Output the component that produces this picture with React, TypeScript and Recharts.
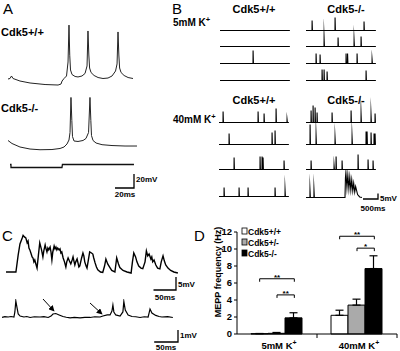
import React from "react";
import { LineChart, Line, XAxis, YAxis, BarChart, Bar, ErrorBar } from "recharts";

type Pt = [number, number];

const FONT = '"Liberation Sans", Arial, Helvetica, sans-serif';

// ---- Panel A: evoked firing (ms, mV relative to trace start)
const aWildType: Pt[] = [
  [0, 0], [2.1, 0.7], [3.7, 4.3], [5.3, 0.7], [12.6, -2.9], [23.2, -5.7], [39, -7.9], [52.7, -8.6],
  [55.8, -7.2], [56.9, -2.9], [59, 0.7], [61.6, 4.3], [63.2, 24.3], [64.2, 77], [65, 34], [65.8, 12.9],
  [67.4, 6.4], [70.6, 3.6], [73.7, 2.9], [77.9, 4.3], [81.1, 7.9], [83.2, 18.6], [84.2, 68.6], [85.1, 34.3],
  [85.9, 15.7], [87.4, 9.3], [90.6, 5], [94.8, 2.1], [100, 0.7], [105.3, 1.4], [109.5, 4.3], [113.2, 11.4],
  [114.8, 21.5], [115.8, 67.2], [116.7, 34.3], [117.5, 15.7], [119, 9.3], [122.2, 5], [126.4, 2.1], [131.6, 0.7],
];
const aKnockout: Pt[] = [
  [0, 0], [4.2, -4.3], [12.6, -9.3], [23.2, -12.2], [33.7, -13.2], [46.3, -12.9], [54.8, -11.4], [59, -9.3],
  [62.1, -5], [64.2, 0.7], [65.3, 11.4], [66.3, 61.5], [67.2, 28.6], [67.9, 5.7], [69.5, -0.7], [73.7, -1.4],
  [79, 0], [82.1, 2.9], [84.8, 11.4], [86.3, 61.5], [87.2, 28.6], [87.9, 7.1], [89.5, 0], [92.7, -3.6],
  [99, -6], [109.5, -7.2], [123.2, -7.9], [135.8, -7.9],
];
// injected current (nA)
const aCurrent: Pt[] = [[0, 0], [1, 0], [1.05, -0.1], [54.7, -0.1], [55.2, 0], [130.5, 0]];

// ---- Panel B: spontaneous events [time ms, amplitude mV]
const b5Wt: Pt[][] = [[], [], [[1100, 11.8]], []];
const b5Ko: Pt[][] = [
  [[200, 9.1], [966, 11.8], [1932, 8.2]],
  [[600, 7.3], [1066, 8.2], [1600, 5.5], [1833, 9.1]],
  [[333, 9.1], [466, 8.2], [1333, 9.1], [1383, 9.1], [1700, 9.1], [2200, 3.6]],
  [[533, 10], [600, 10], [700, 8.2], [2000, 9.1]],
];
const b40Wt: Pt[][] = [
  [[133, 10], [1300, 10], [1500, 8.2], [1900, 12.7], [2266, 2.7]],
  [[333, 10], [1766, 10.9], [1866, 12.7]],
  [[500, 10.9], [1366, 11.8], [1433, 11.8], [1466, 10.9], [2166, 8.2]],
  [[166, 8.2], [666, 8.2], [966, 8.2], [1866, 8.2], [2200, 5.5]],
];
const b40Ko: Pt[][] = [
  [[166, 10.9], [233, 15.5], [300, 13.6], [366, 9.1], [866, 9.1], [1500, 10.9], [1833, 7.3], [2166, 6.4], [2300, 8.2]],
  [[133, 18.2], [333, 7.3], [966, 5.5], [1533, 6.4], [2000, 11.8], [2033, 11.8], [2166, 10.9], [2266, 10], [2300, 10]],
  [[166, 8.2], [933, 3.6], [1000, 11.8], [1200, 8.2], [1733, 13.6], [2066, 9.1], [2233, 8.2]],
];
// last 40mM Cdk5-/- sweep with the burst (ms, mV)
const b40KoBurst: Pt[] = [
  [0, 0], [130, 0], [133, 6.4], [145, 0], [263, 0], [266, 6.4], [278, 0], [1300, 0], [1315, 18], [1330, 22.7],
  [1365, 9], [1395, 20.5], [1430, 8], [1460, 18.5], [1495, 7], [1525, 16], [1560, 6], [1590, 13],
  [1625, 5], [1655, 10], [1720, 2.7], [1790, 0.5], [1865, 0],
];

// ---- Panel C: MEPPs (ms, mV)
const cHigh: Pt[] = [
  [0, 0], [22, 0], [27, 6.5], [31, 10.8], [36, 13.1], [38, 14.1], [41, 13.5], [44, 13.1], [47, 11.2], [49, 11.9],
  [51, 9.2], [53, 8.5], [56, 6.9], [58, 5.8], [60, 5.4], [62, 3.9], [64, 4.6], [67, 2.7], [69, 1.5], [72, 6.5],
  [75, 11.2], [79, 8.5], [82, 5.8], [84, 8.1], [87, 10.4], [89, 8.9], [91, 7.7], [93, 9.2], [95, 8.5], [98, 9.6],
  [100, 7.7], [102, 4.6], [104, 7.7], [107, 10], [109, 8.9], [111, 9.6], [113, 8.5], [115, 9.2], [118, 8.5],
  [120, 8.9], [122, 7.3], [124, 7.7], [127, 5.4], [130, 3.9], [133, 1.9], [135, 3.9], [138, 5.4], [141, 4.2],
  [144, 3.1], [147, 4.6], [149, 5.8], [151, 4.2], [153, 2.7], [155, 3.9], [158, 5], [160, 3.5], [162, 1.9],
  [164, 2.3], [168, 5.4], [171, 7.3], [173, 6.2], [175, 3.9], [178, 2.3], [180, 1.5], [183, 4.6], [186, 7.7],
  [190, 7.3], [193, 6.9], [195, 5.4], [198, 3.5], [201, 1.9], [204, 0.8], [210, 0], [215, -0.2], [219, 2.3],
  [222, 5], [226, 3.1], [231, 1.7], [235, 0.6], [242, 0], [246, 5.4], [250, 3.1], [253, 1.7], [260, 0.6],
  [269, 0], [278, -0.4], [281, 3.9], [284, 7.3], [288, 5.8], [291, 3.9], [295, 2.3], [300, 1.5], [304, 1.3],
  [309, 3.9], [312, 8.1], [315, 6.2], [318, 6.9], [322, 5], [324, 5.8], [326, 3.9], [329, 4.6], [333, 2.7],
  [337, 1.5], [342, 1.2], [345, 3.9], [349, 6.2], [352, 4.2], [355, 2.7], [360, 1.5], [366, 0.6], [373, 0],
  [382, -0.4],
];
const cLow: Pt[] = [
  [0, -0.04], [6, 0.03], [13, 0], [19, 0.04], [25, 0], [27, 0.42], [29, 1.33], [32, 0.67], [34, 0.25], [38, 0.08],
  [46, 0], [52, 0.04], [59, -0.04], [68, 0.02], [80, 0], [88, 0.03], [97, -0.04], [103, 0.08], [107, 0.25],
  [113, 0.29], [120, 0.17], [128, 0.04], [135, -0.02], [143, -0.08], [152, -0.04], [164, -0.08], [174, -0.03],
  [185, -0.04], [195, 0.02], [206, 0], [212, 0.08], [221, 0.17], [227, 0.17], [231, 0.5], [233, 1], [235, 0.42],
  [239, 0.17], [248, 0.08], [254, 0.42], [256, 1.29], [259, 0.58], [265, 0.17], [273, 0.04], [281, 0.02],
  [290, -0.04], [299, 0.02], [307, 0], [309, 0.33], [311, 0.67], [315, 0.33], [323, 0.13], [330, 0.04],
  [336, 0], [348, 0.03], [359, -0.04],
];

// ---- Panel D: MEPP frequency (Hz), mean and SEM
const conditions = ["5mM K+", "40mM K+"];
const wtMean = [0.04, 2.2];
const wtSem = [0.02, 0.6];
const hetMean = [0.08, 3.4];
const hetSem = [0.1, 0.7];
const koMean = [1.9, 7.7];
const koSem = [0.6, 1.5];
const freqTicks = [0, 2, 4, 6, 8, 10, 12];
const genotypes = ["Cdk5+/+", "Cdk5+/-", "Cdk5-/-"];
const genoColors = ["#ffffff", "#aaaaaa", "#000000"];
// significance: [condition index, from bar, to bar, level Hz, label]
const sigBrackets: [number, number, number, number, string][] = [
  [0, 0, 2, 6.5, "**"],
  [0, 1, 2, 4.6, "**"],
  [1, 0, 2, 11.5, "**"],
  [1, 1, 2, 10.1, "*"],
];

const barRows = conditions.map((name, i) => ({
  name,
  wt: wtMean[i],
  wtErr: [0, wtSem[i]],
  het: hetMean[i],
  hetErr: [0, hetSem[i]],
  ko: koMean[i],
  koErr: [0, koSem[i]],
}));

function spikeTrace(events: Pt[], end = 2330): Pt[] {
  const pts: Pt[] = [[0, 0]];
  events.forEach(([t, a]) => {
    pts.push([t, 0], [t + 3, a], [t + 14, 0]);
  });
  pts.push([end, 0]);
  return pts;
}

interface TraceProps {
  data: Pt[];
  x0: number;
  y0: number;
  kx: number;
  ky: number;
  xDomain: [number, number];
  yDomain: [number, number];
  lineWidth?: number;
  color?: string;
}

function Trace({ data, x0, y0, kx, ky, xDomain, yDomain, lineWidth = 1, color = "#111" }: TraceProps) {
  const rows = data.map(([t, v]) => ({ t, v }));
  const left = x0 + xDomain[0] * kx;
  const top = y0 - yDomain[1] * ky;
  const w = (xDomain[1] - xDomain[0]) * kx;
  const h = (yDomain[1] - yDomain[0]) * ky;
  return (
    <div style={{ position: "absolute", left, top, width: w, height: h }}>
      <LineChart width={w} height={h} data={rows} margin={{ top: 0, right: 0, bottom: 0, left: 0 }}>
        <XAxis dataKey="t" type="number" domain={xDomain} hide />
        <YAxis type="number" domain={yDomain} hide />
        <Line dataKey="v" type="linear" stroke={color} strokeWidth={lineWidth} strokeLinejoin="miter" strokeMiterlimit={40} dot={false} isAnimationActive={false} />
      </LineChart>
    </div>
  );
}

// layout of panel B sweeps
const B_KX = 0.03;
const B_KY = 1.1;
const B_DOM: [number, number] = [0, 2330];
const B_YDOM: [number, number] = [-2, 25];

function Sweep({ data, x0, y0 }: { data: Pt[]; x0: number; y0: number }) {
  return <Trace data={data} x0={x0} y0={y0} kx={B_KX} ky={B_KY} xDomain={B_DOM} yDomain={B_YDOM} lineWidth={1.1} color="#000" />;
}

function CondTick(props: any) {
  const { x, y, payload } = props;
  const label = String(payload.value);
  const base = label.replace(/\+$/, "");
  return (
    <g>
      <line x1={x + 40} x2={x + 40} y1={y} y2={y + 4} stroke="#000" />
      <text x={x + 2} y={y + 15} textAnchor="middle" fontWeight="bold" fontSize={9.5} fontFamily={FONT} fill="#000">
        {base}
        <tspan dy={-4} fontSize={7}>+</tspan>
      </text>
    </g>
  );
}

const D_LEFT = 237;
const D_ZERO = 334;
const D_PER_HZ = 8.5;
const D_CAT = 80;
const D_GAP = 14;
const D_BAR = (D_CAT - 2 * D_GAP) / 3;

function ScaleBar({ x, y, w, h }: { x: number; y: number; w: number; h: number }) {
  return <polyline points={`${x - w},${y} ${x},${y} ${x},${y - h}`} fill="none" stroke="#000" strokeWidth={1.3} />;
}

export default function App() {
  const sweepBases5 = [30, 46, 63, 80];
  const sweepBases40 = [122, 144, 169, 196];
  return (
    <div style={{ position: "absolute", left: 0, top: 0, width: 400, height: 351, background: "#fff", overflow: "hidden", fontFamily: FONT }}>
      {/* A */}
      <Trace data={aWildType} x0={8} y0={79} kx={0.95} ky={0.7} xDomain={[0, 132]} yDomain={[-10, 80]} color="#222" />
      <Trace data={aKnockout} x0={8} y0={140} kx={0.95} ky={0.7} xDomain={[0, 136]} yDomain={[-15, 65]} color="#222" />
      <Trace data={aCurrent} x0={10} y0={164} kx={0.95} ky={30} xDomain={[0, 131]} yDomain={[-0.15, 0.05]} lineWidth={1.3} color="#111" />

      {/* B */}
      {b5Wt.map((ev, i) => <Sweep key={"a" + i} data={spikeTrace(ev)} x0={220} y0={sweepBases5[i]} />)}
      {b5Ko.map((ev, i) => <Sweep key={"b" + i} data={spikeTrace(ev)} x0={306} y0={sweepBases5[i]} />)}
      {b40Wt.map((ev, i) => <Sweep key={"c" + i} data={spikeTrace(ev)} x0={219} y0={sweepBases40[i]} />)}
      {b40Ko.map((ev, i) => <Sweep key={"d" + i} data={spikeTrace(ev)} x0={306} y0={sweepBases40[i]} />)}
      <Sweep data={b40KoBurst} x0={306} y0={197} />

      {/* C */}
      <Trace data={cHigh} x0={6} y0={272} kx={0.45} ky={2.6} xDomain={[0, 382]} yDomain={[-1, 15]} lineWidth={1.4} color="#000" />
      <Trace data={cLow} x0={2} y0={317} kx={0.476} ky={12} xDomain={[0, 360]} yDomain={[-0.3, 1.5]} lineWidth={1.2} color="#000" />

      {/* D */}
      <div style={{ position: "absolute", left: 196, top: 222 }}>
        <BarChart width={204} height={129} data={barRows} margin={{ top: 10, right: 3, bottom: 0, left: 0 }} barCategoryGap={D_GAP} barGap={0}>
          <XAxis dataKey="name" height={17} axisLine={{ stroke: "#000" }} tickLine={false} tickSize={0} tickMargin={0} interval={0} tick={(p: any) => <CondTick {...p} />} />
          <YAxis width={41} domain={[0, 12]} ticks={freqTicks} interval={0} axisLine={{ stroke: "#000" }} tickLine={{ stroke: "#000" }} tickSize={3} tickMargin={2}
            tick={{ fill: "#000", fontSize: 9.5, fontWeight: "bold", fontFamily: FONT }} />
          <Bar dataKey="wt" fill={genoColors[0]} stroke="#000" isAnimationActive={false}>
            <ErrorBar dataKey="wtErr" direction="y" width={4} stroke="#000" strokeWidth={1.2} isAnimationActive={false} />
          </Bar>
          <Bar dataKey="het" fill={genoColors[1]} stroke="#000" isAnimationActive={false}>
            <ErrorBar dataKey="hetErr" direction="y" width={4} stroke="#000" strokeWidth={1.2} isAnimationActive={false} />
          </Bar>
          <Bar dataKey="ko" fill={genoColors[2]} stroke="#000" isAnimationActive={false}>
            <ErrorBar dataKey="koErr" direction="y" width={4} stroke="#000" strokeWidth={1.2} isAnimationActive={false} />
          </Bar>
        </BarChart>
      </div>

      <svg width={400} height={351} style={{ position: "absolute", left: 0, top: 0, pointerEvents: "none" }} fontFamily={FONT}>
        <defs>
          <marker id="ah" viewBox="0 0 8 8" refX="7" refY="4" markerWidth="6" markerHeight="6" orient="auto">
            <path d="M0,0 L8,4 L0,8 z" fill="#000" />
          </marker>
        </defs>

        {/* panel letters */}
        <text x={3} y={14} fontSize={15}>A</text>
        <text x={172} y={14} fontSize={15}>B</text>
        <text x={2} y={241} fontSize={15}>C</text>
        <text x={194} y={241} fontSize={15}>D</text>

        {/* A labels */}
        <text x={1} y={36} fontSize={11} fontWeight="bold">Cdk5+/+</text>
        <text x={1} y={112} fontSize={11} fontWeight="bold">Cdk5-/-</text>
        <ScaleBar x={134} y={188} w={20 * 0.95} h={20 * 0.7} />
        <text x={136} y={182} fontSize={8} fontWeight="bold">20mV</text>
        <text x={125} y={197} fontSize={8} fontWeight="bold" textAnchor="middle">20ms</text>

        {/* B labels */}
        <text x={254} y={13} fontSize={11} fontWeight="bold" textAnchor="middle">Cdk5+/+</text>
        <text x={346} y={13} fontSize={11} fontWeight="bold" textAnchor="middle">Cdk5-/-</text>
        <text x={254} y={104} fontSize={11} fontWeight="bold" textAnchor="middle">Cdk5+/+</text>
        <text x={346} y={104} fontSize={11} fontWeight="bold" textAnchor="middle">Cdk5-/-</text>
        <text x={173} y={26} fontSize={10} fontWeight="bold">5mM K<tspan dy={-4} fontSize={7.5}>+</tspan></text>
        <text x={173} y={123} fontSize={10} fontWeight="bold">40mM K<tspan dy={-4} fontSize={7.5}>+</tspan></text>
        <ScaleBar x={378} y={199} w={500 * B_KX} h={5 * B_KY} />
        <text x={380} y={201} fontSize={8} fontWeight="bold">5mV</text>
        <text x={373} y={211} fontSize={8} fontWeight="bold" textAnchor="middle">500ms</text>

        {/* C labels */}
        <ScaleBar x={176} y={290} w={50 * 0.45} h={5 * 2.6} />
        <text x={178} y={287} fontSize={8} fontWeight="bold">5mV</text>
        <text x={165} y={300} fontSize={8} fontWeight="bold" textAnchor="middle">50ms</text>
        <ScaleBar x={178} y={342} w={50 * 0.476} h={1 * 12} />
        <text x={180} y={338} fontSize={8} fontWeight="bold">1mV</text>
        <text x={166} y={350} fontSize={8} fontWeight="bold" textAnchor="middle">50ms</text>
        <line x1={43} y1={299} x2={54} y2={311} stroke="#000" strokeWidth={1} markerEnd="url(#ah)" />
        <line x1={90} y1={303} x2={102} y2={314} stroke="#000" strokeWidth={1} markerEnd="url(#ah)" />

        {/* D annotations */}
        <text transform="translate(221,272) rotate(-90)" fontSize={9} fontWeight="bold" textAnchor="middle">MEPP frequency (Hz)</text>
        {genotypes.map((g, i) => (
          <g key={g}>
            <rect x={242} y={228 + i * 11} width={5} height={6} fill={genoColors[i]} stroke="#000" strokeWidth={0.8} />
            <text x={248} y={234.5 + i * 11} fontSize={8.5} fontWeight="bold">{g}</text>
          </g>
        ))}
        {sigBrackets.map(([c, a, b, lvl, s], i) => {
          const xa = D_LEFT + c * D_CAT + D_GAP + D_BAR * (a + 0.5);
          const xb = D_LEFT + c * D_CAT + D_GAP + D_BAR * (b + 0.5);
          const y = D_ZERO - lvl * D_PER_HZ;
          return (
            <g key={i}>
              <polyline points={`${xa},${y + 3} ${xa},${y} ${xb},${y} ${xb},${y + 3}`} fill="none" stroke="#000" strokeWidth={1} />
              <text x={(xa + xb) / 2} y={y + 1} fontSize={8} fontWeight="bold" textAnchor="middle">{s}</text>
            </g>
          );
        })}
      </svg>
    </div>
  );
}
